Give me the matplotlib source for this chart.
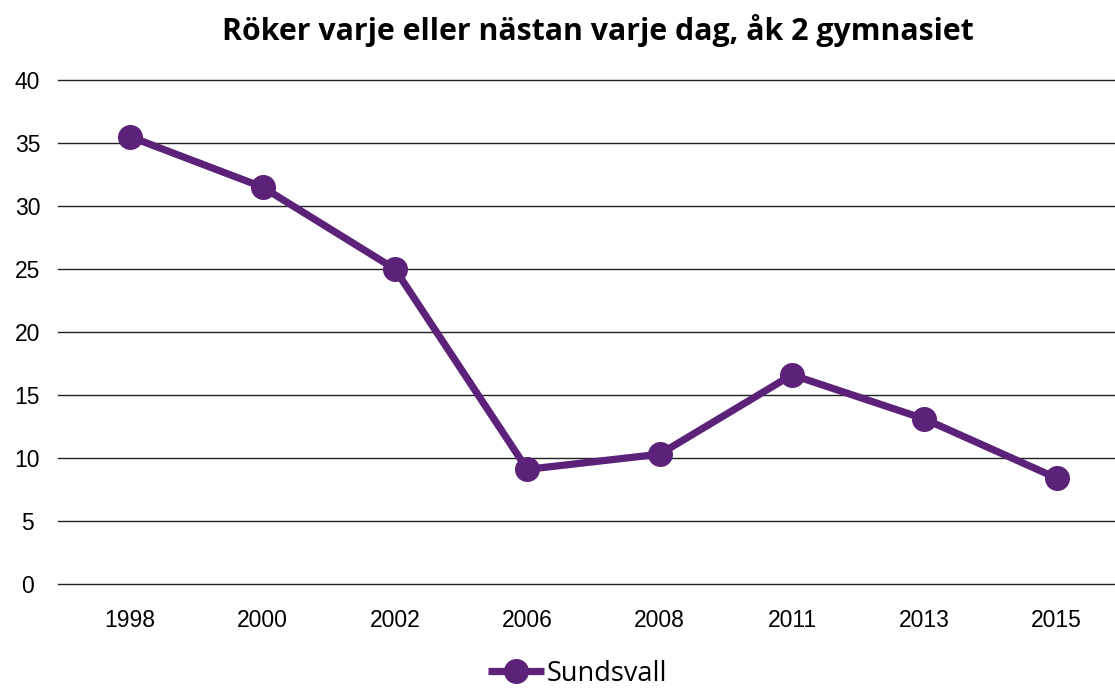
import matplotlib.pyplot as plt

# Andel (%) som röker varje eller nästan varje dag, åk 2 gymnasiet
years = ['1998', '2000', '2002', '2006', '2008', '2011', '2013', '2015']
sundsvall = [35.5, 31.5, 25.0, 9.1, 10.3, 16.6, 13.1, 8.4]
y_ticks = [0, 5, 10, 15, 20, 25, 30, 35, 40]

purple = '#5c2178'

fig = plt.figure(figsize=(11.15, 6.89), dpi=100)
ax = fig.add_axes([0.052, 0.1524, 0.948, 0.7315])

x = list(range(len(years)))
ax.plot(x, sundsvall, color=purple, linewidth=5.2, marker='o',
        markersize=17, solid_capstyle='butt', label='Sundsvall', zorder=3)

ax.set_xlim(-0.545, 7.44)
ax.set_ylim(0, 40)
ax.set_yticks(y_ticks)
ax.set_xticks(x)
ax.set_xticklabels(years)
ax.yaxis.grid(True, color='#222222', linewidth=1.0)
for gl in ax.get_ygridlines():
    gl.set_clip_on(False)
ax.set_axisbelow(True)
for s in ax.spines.values():
    s.set_visible(False)
ax.tick_params(length=0, labelsize=16.5, pad=0)
ax.tick_params(axis='y', pad=22)
ax.tick_params(axis='x', pad=18)
for lbl in ax.get_xticklabels() + ax.get_yticklabels():
    lbl.set_fontfamily('Liberation Sans')
for lbl in ax.get_yticklabels():
    lbl.set_horizontalalignment('center')

fig.suptitle('Röker varje eller nästan varje dag, åk 2 gymnasiet',
             x=0.536, y=0.956, va='center', fontsize=21.8,
             fontweight='bold', fontfamily='Open Sans')

leg = fig.legend(loc='center', bbox_to_anchor=(0.518, 0.022), frameon=False,
                 prop={'family': 'Open Sans', 'size': 19.5}, handlelength=2.1,
                 handletextpad=0.1)

fig.savefig('out.png', dpi=100)
